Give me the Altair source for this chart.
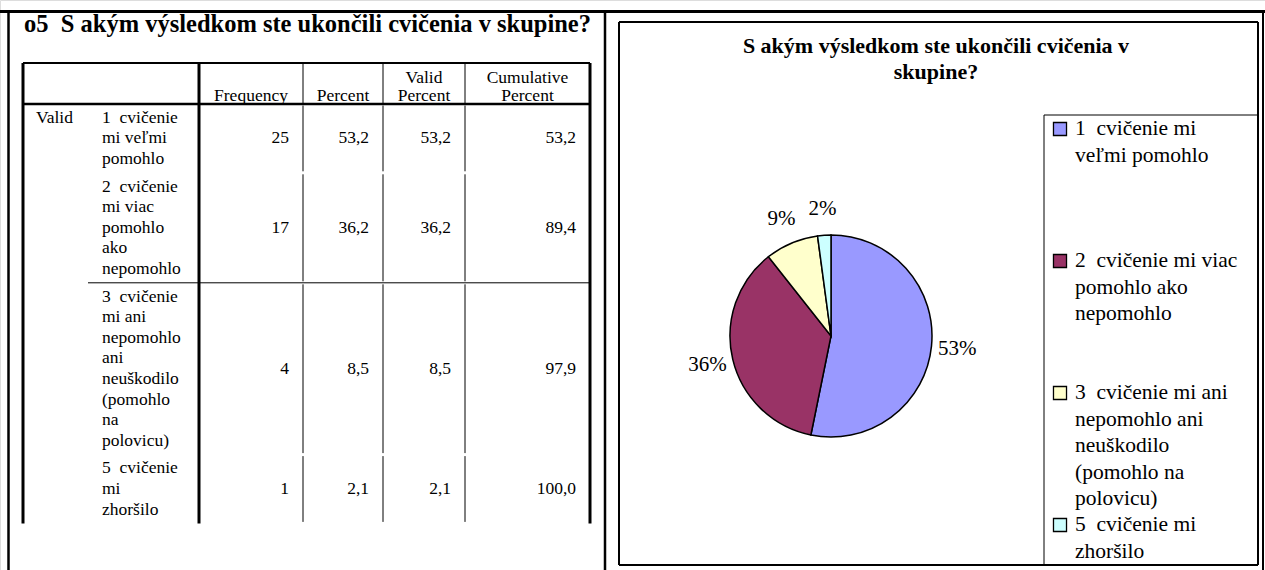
import textwrap
import altair as alt
import pandas as pd

W, H = 1265, 570
FONT = "Liberation Serif"
NB = "\u00a0"

# ---------------- data ----------------
table_title = "o5  S akým výsledkom ste ukončili cvičenia v skupine?"
chart_title = ["S akým výsledkom ste ukončili cvičenia v", "skupine?"]
row_group = "Valid"
categories = [
    "1  cvičenie mi veľmi pomohlo",
    "2  cvičenie mi viac pomohlo ako nepomohlo",
    "3  cvičenie mi ani nepomohlo ani neuškodilo (pomohlo na polovicu)",
    "5  cvičenie mi zhoršilo",
]
column_headers = ["Frequency", "Percent", "Valid Percent", "Cumulative Percent"]
frequency = [25, 17, 4, 1]
percent = [53.2, 36.2, 8.5, 2.1]
valid_percent = [53.2, 36.2, 8.5, 2.1]
cumulative_percent = [53.2, 89.4, 97.9, 100.0]
slice_colors = ["#9999FF", "#993366", "#FFFFCC", "#CCFFFF"]

# ---------------- text wrapping helpers ----------------
_w = {' ': .25, NB: .25, 'a': .444, 'b': .5, 'c': .444, 'd': .5, 'e': .444, 'f': .333,
      'g': .5, 'h': .5, 'i': .278, 'j': .278, 'k': .5, 'l': .278, 'm': .778, 'n': .5,
      'o': .5, 'p': .5, 'q': .5, 'r': .333, 's': .389, 't': .278, 'u': .5, 'v': .5,
      'w': .722, 'x': .5, 'y': .5, 'z': .444, '(': .333, ')': .333, '%': .833, '?': .444,
      'č': .444, 'š': .389, 'ľ': .278, 'ý': .5, 'ž': .444, 'P': .556, 'V': .722,
      'C': .667, 'F': .556, 'S': .556}


def keep_sp(s):
    # keep the double space of the SPSS labels visible in SVG
    return s.replace("  ", " " + NB)


def text_px(s, fs):
    return sum(_w.get(ch, .5) for ch in s) * fs


def wrap_px(s, fs, max_px):
    words = s.replace("  ", NB + NB).split(" ")
    lines, cur = [], ""
    for wd in words:
        cand = wd if not cur else cur + " " + wd
        if cur and text_px(cand, fs) > max_px:
            lines.append(cur)
            cur = wd
        else:
            cur = cand
    lines.append(cur)
    return [ln.replace(NB + NB, " " + NB) for ln in lines]


def wrap_chars(s, n):
    out = textwrap.wrap(s.replace("  ", NB + NB), n, break_long_words=False)
    return [ln.replace(NB + NB, " " + NB) for ln in out]


def fmt(v):
    return f"{v:.1f}".replace(".", ",")


# ---------------- layout ----------------
BODY = 17.5
LH = 20.6
cols = [199, 303, 383, 465, 590]
tbl_left, tbl_top, hdr_bot = 23, 63, 104

lines = []   # x, x2, y, y2, w
left_txt, center_txt, right_txt, bold_left, bold_center = [], [], [], [], []

# document frame
lines += [
    dict(x=0, x2=W, y=11.5, y2=11.5, w=3),
    dict(x=8.5, x2=8.5, y=10, y2=H, w=2.5),
    dict(x=605, x2=605, y=10, y2=H, w=2.5),
    dict(x=1263, x2=1263, y=10, y2=H, w=2),
]

# table title
bold_left.append(dict(x=24, y=25, t=keep_sp(table_title), fs=24.5))

# header
for i, h in enumerate(column_headers):
    cx = (cols[i] + cols[i + 1]) / 2
    hl = wrap_px(h, BODY, cols[i + 1] - cols[i] - 12)
    for k, ln in enumerate(reversed(hl)):
        center_txt.append(dict(x=cx, y=hdr_bot - 8 - k * 18, t=ln, fs=BODY))

# body rows
label_lines = [wrap_chars(c, 10) for c in categories]
row_tops = [hdr_bot]
for ll in label_lines:
    row_tops.append(row_tops[-1] + len(ll) * LH + 7)
tbl_bot = row_tops[-1]

left_txt.append(dict(x=36, y=row_tops[0] + (row_tops[1] - row_tops[0]) / 2 - LH, t=row_group, fs=BODY))
for r, ll in enumerate(label_lines):
    top, bot = row_tops[r], row_tops[r + 1]
    cy = (top + bot) / 2
    y0 = cy - (len(ll) - 1) / 2 * LH
    for k, ln in enumerate(ll):
        left_txt.append(dict(x=102, y=y0 + k * LH, t=ln, fs=BODY))
    vals = [str(frequency[r]), fmt(percent[r]), fmt(valid_percent[r]), fmt(cumulative_percent[r])]
    for j, v in enumerate(vals):
        right_txt.append(dict(x=cols[j + 1] - 14, y=cy, t=v, fs=BODY))
    for cx in cols[1:4]:
        lines.append(dict(x=cx, x2=cx, y=top + 1.5, y2=bot - 1.5, w=1))
    if r == 1:
        lines.append(dict(x=88, x2=cols[-1], y=bot, y2=bot, w=1))

# table borders
lines += [
    dict(x=tbl_left, x2=cols[-1], y=tbl_top, y2=tbl_top, w=2),
    dict(x=tbl_left, x2=cols[-1], y=hdr_bot, y2=hdr_bot, w=2.5),
    dict(x=tbl_left, x2=tbl_left, y=tbl_top, y2=tbl_bot, w=3),
    dict(x=cols[0], x2=cols[0], y=tbl_top, y2=tbl_bot, w=3),
    dict(x=cols[-1], x2=cols[-1], y=tbl_top, y2=tbl_bot, w=3),
]
for cx in cols[1:4]:
    lines.append(dict(x=cx, x2=cx, y=tbl_top, y2=hdr_bot, w=1))

# chart frame + legend box
fx0, fx1, fy0, fy1 = 619, 1258, 22, 565
lx0, ly0 = 1044, 115
lines += [
    dict(x=fx0, x2=fx1, y=fy0, y2=fy0, w=2),
    dict(x=fx0, x2=fx1, y=fy1, y2=fy1, w=2),
    dict(x=fx0, x2=fx0, y=fy0, y2=fy1, w=2),
    dict(x=fx1, x2=fx1, y=fy0, y2=fy1, w=2),
    dict(x=lx0, x2=fx1, y=ly0, y2=ly0, w=1),
    dict(x=lx0, x2=lx0, y=ly0, y2=fy1, w=1),
]

# chart title
for k, ln in enumerate(chart_title):
    bold_center.append(dict(x=936, y=46 + k * 26, t=ln, fs=22))

# legend
LEG_FS, LEG_LH = 21.5, 26.5
leg_sq = []
for i, c in enumerate(categories):
    y0 = 129 + i * 132
    leg_sq.append(dict(x=1060, y=y0, cat=c))
    for k, ln in enumerate(wrap_px(c, LEG_FS, 170)):
        left_txt.append(dict(x=1075, y=y0 + k * LEG_LH, t=ln, fs=LEG_FS))

# pie data
total = sum(frequency)
pie = pd.DataFrame({
    "cat": categories,
    "freq": frequency,
    "idx": list(range(len(categories))),
    "lab": [f"{round(100 * f / total)}%" for f in frequency],
})

# ---------------- chart ----------------
xs = alt.Scale(domain=[0, W], range=[0, W])
ys = alt.Scale(domain=[0, H], range=[0, H])
cscale = alt.Scale(domain=categories, range=slice_colors)


def xy():
    return dict(x=alt.X("x:Q", scale=xs, axis=None), y=alt.Y("y:Q", scale=ys, axis=None))


rules = alt.Chart(pd.DataFrame(lines)).mark_rule(color="black", strokeCap="butt").encode(
    x=alt.X("x:Q", scale=xs, axis=None), x2="x2:Q",
    y=alt.Y("y:Q", scale=ys, axis=None), y2="y2:Q",
    strokeWidth=alt.StrokeWidth("w:Q", scale=None),
)


def txt(rows, align, weight="normal"):
    return alt.Chart(pd.DataFrame(rows)).mark_text(
        align=align, baseline="middle", font=FONT, fontWeight=weight, color="black"
    ).encode(text="t:N", size=alt.Size("fs:Q", scale=None), **xy())


CX, CY, R = 831, 336, 101
arc = alt.Chart(pie).mark_arc(outerRadius=R, stroke="black", strokeWidth=1.5).encode(
    theta=alt.Theta("freq:Q", stack=True),
    color=alt.Color("cat:N", scale=cscale, legend=None),
    order=alt.Order("idx:Q"),
    x=alt.value(CX), y=alt.value(CY),
)
pie_lab = alt.Chart(pie).mark_text(radius=127, font=FONT, fontSize=21, color="black").encode(
    theta=alt.Theta("freq:Q", stack=True),
    order=alt.Order("idx:Q"),
    text="lab:N",
    x=alt.value(CX), y=alt.value(CY),
)
squares = alt.Chart(pd.DataFrame(leg_sq)).mark_square(
    size=170, stroke="black", strokeWidth=1.3, opacity=1, filled=True
).encode(color=alt.Color("cat:N", scale=cscale, legend=None), **xy())

chart = alt.layer(
    rules,
    txt(left_txt, "left"),
    txt(center_txt, "center"),
    txt(right_txt, "right"),
    txt(bold_left, "left", "bold"),
    txt(bold_center, "center", "bold"),
    arc,
    pie_lab,
    squares,
).properties(
    width=W, height=H, padding=0, autosize=alt.AutoSizeParams(type="none")
).configure_view(strokeWidth=0).configure(background="white")

chart.save("out.html", embed_options={"renderer": "svg", "actions": False})
